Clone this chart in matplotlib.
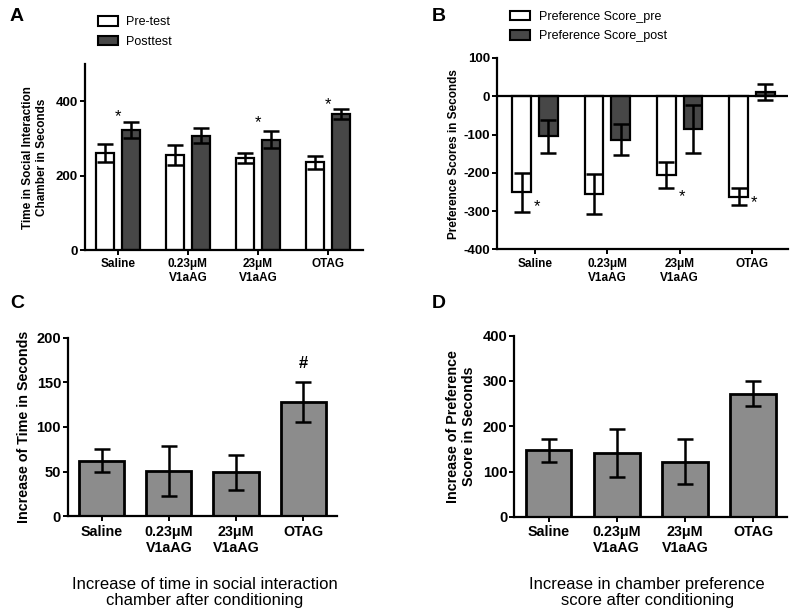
import numpy as np
import matplotlib
matplotlib.use('Agg')
import matplotlib.pyplot as plt
from matplotlib.patches import Patch

plt.rcParams['font.family'] = ['Liberation Sans', 'DejaVu Sans']
plt.rcParams['axes.unicode_minus'] = False

groups = ['Saline', '0.23\u03bcM\nV1aAG', '23\u03bcM\nV1aAG', 'OTAG']

# panel A: time in social interaction chamber
time_pre = [260, 256, 248, 236]
time_pre_err = [24, 27, 14, 17]
time_post = [322, 307, 297, 365]
time_post_err = [22, 20, 23, 13]
time_star_groups = [0, 2, 3]
time_star_y = [359, 343, 392]

# panel B: preference scores
pref_pre = [-251, -256, -206, -262]
pref_pre_err = [50, 52, 34, 22]
pref_post = [-105, -113, -85, 10]
pref_post_err = [43, 40, 62, 21]
pref_star_groups = [0, 2, 3]
pref_star_y = [-289, -263, -277]

# panel C: increase of time
inc_time = [62, 51, 49, 128]
inc_time_err = [13, 28, 20, 22]
hash_group = 3
hash_y = 171

# panel D: increase of preference score
inc_pref = [147, 142, 122, 272]
inc_pref_err = [25, 53, 49, 28]

dark = '#474747'
mid = '#8c8c8c'
lw = 1.6
err_kw = dict(ecolor='black', elinewidth=1.8, capsize=5.5, capthick=1.8)


def style_axes(ax, xsize=8.5, ysize=9.5):
    for side in ['top', 'right']:
        ax.spines[side].set_visible(False)
    for side in ['left', 'bottom']:
        ax.spines[side].set_linewidth(1.6)
    ax.tick_params(width=1.4, length=3.5, pad=1.5)
    ax.tick_params(axis='x', labelsize=xsize, pad=2.5)
    ax.tick_params(axis='y', labelsize=ysize)
    for lab in ax.get_xticklabels() + ax.get_yticklabels():
        lab.set_fontweight('bold')


def paired_bars(ax, pre, pre_err, post, post_err):
    x = np.arange(len(groups))
    ax.bar(x - 0.185, pre, 0.26, yerr=pre_err, color='white', edgecolor='black',
           linewidth=lw, error_kw=err_kw, zorder=2)
    ax.bar(x + 0.185, post, 0.26, yerr=post_err, color=dark, edgecolor='black',
           linewidth=lw, error_kw=err_kw, zorder=2)
    ax.set_xticks(x)
    ax.set_xticklabels(groups)


def single_bars(ax, vals, errs):
    x = np.arange(len(groups))
    ax.bar(x, vals, 0.67, yerr=errs, color=mid, edgecolor='black',
           linewidth=lw + 0.4, error_kw=err_kw, zorder=2)
    ax.set_xticks(x)
    ax.set_xticklabels(groups)


fig = plt.figure(figsize=(8, 6.16), dpi=100)

# A
axA = fig.add_axes([0.106, 0.594, 0.348, 0.302])
paired_bars(axA, time_pre, time_pre_err, time_post, time_post_err)
axA.set_xlim(-0.47, 3.5)
axA.set_ylim(0, 500)
axA.set_yticks([0, 200, 400])
axA.set_ylabel('Time in Social Interaction\nChamber in Seconds', fontsize=8.5,
               fontweight='bold', labelpad=5.5)
for g, y in zip(time_star_groups, time_star_y):
    axA.text(g, y, '*', ha='center', va='center', fontsize=12)
style_axes(axA)
fig.legend(handles=[Patch(facecolor='white', edgecolor='black', linewidth=1.5, label='Pre-test'),
                    Patch(facecolor=dark, edgecolor='black', linewidth=1.5, label='Posttest')],
           loc='upper left', bbox_to_anchor=(0.108, 0.992), frameon=False, fontsize=9,
           handlelength=1.6, handleheight=0.8, labelspacing=0.6, handletextpad=0.7)

# B
axB = fig.add_axes([0.621, 0.595, 0.364, 0.311])
paired_bars(axB, pref_pre, pref_pre_err, pref_post, pref_post_err)
axB.axhline(0, color='black', linewidth=1.6, zorder=3)
axB.set_xlim(-0.53, 3.5)
axB.set_ylim(-400, 100)
axB.set_yticks([-400, -300, -200, -100, 0, 100])
axB.set_ylabel('Preference Scores in Seconds', fontsize=8.5, fontweight='bold', labelpad=2)
for g, y in zip(pref_star_groups, pref_star_y):
    axB.text(g + 0.03, y, '*', ha='center', va='center', fontsize=12)
style_axes(axB)
fig.legend(handles=[Patch(facecolor='white', edgecolor='black', linewidth=1.5, label='Preference Score_pre'),
                    Patch(facecolor=dark, edgecolor='black', linewidth=1.5, label='Preference Score_post')],
           loc='upper left', bbox_to_anchor=(0.624, 1.001), frameon=False, fontsize=9,
           handlelength=1.6, handleheight=0.8, labelspacing=0.6, handletextpad=0.7)

# C
axC = fig.add_axes([0.085, 0.162, 0.336, 0.29])
single_bars(axC, inc_time, inc_time_err)
axC.set_xlim(-0.5, 3.5)
axC.set_ylim(0, 200)
axC.set_yticks([0, 50, 100, 150, 200])
axC.set_ylabel('Increase of Time in Seconds', fontsize=10.3, fontweight='bold', labelpad=4)
axC.text(hash_group, hash_y, '#', ha='center', va='center', fontsize=12, fontweight='bold')
style_axes(axC, 10.3, 10.5)
fig.text(0.256, 0.038, 'Increase of time in social interaction\nchamber after conditioning',
         ha='center', va='center', fontsize=12, linespacing=1.15)

# D
axD = fig.add_axes([0.643, 0.161, 0.341, 0.294])
single_bars(axD, inc_pref, inc_pref_err)
axD.set_xlim(-0.5, 3.5)
axD.set_ylim(0, 400)
axD.set_yticks([0, 100, 200, 300, 400])
axD.set_ylabel('Increase of Preference\nScore in Seconds', fontsize=10.3, fontweight='bold', labelpad=5)
style_axes(axD, 10.3, 10.5)
fig.text(0.809, 0.038, 'Increase in chamber preference\nscore after conditioning',
         ha='center', va='center', fontsize=12, linespacing=1.15)

for letter, (x, y) in zip('ABCD', [(0.021, 0.974), (0.549, 0.974), (0.021, 0.508), (0.549, 0.508)]):
    fig.text(x, y, letter, ha='center', va='center', fontsize=14, fontweight='bold')

fig.savefig('out.png', dpi=100)
